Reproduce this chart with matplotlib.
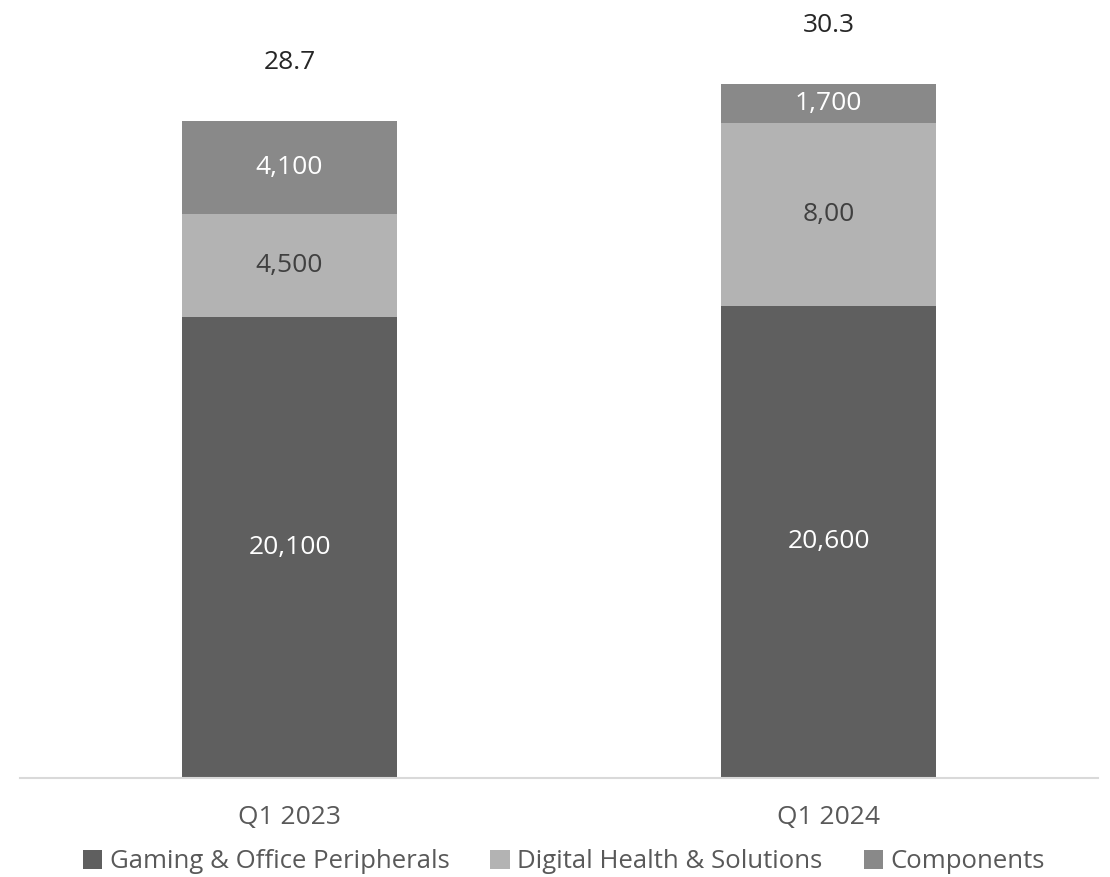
import matplotlib.pyplot as plt
import numpy as np

plt.rcParams['font.family'] = ['Open Sans', 'DejaVu Sans']

quarters = ['Q1 2023', 'Q1 2024']
series = ['Gaming & Office Peripherals', 'Digital Health & Solutions', 'Components']
gaming = [20100, 20600]
digital = [4500, 8000]
components = [4100, 1700]
seg_labels = [['20,100', '20,600'], ['4,500', '8,00'], ['4,100', '1,700']]
totals = ['28.7', '30.3']

colors = ['#5f5f5f', '#b3b3b3', '#898989']
label_colors = ['white', '#404040', 'white']

fig = plt.figure(figsize=(11.1, 8.77), dpi=100)
ax = fig.add_axes([20 / 1110, (877 - 777.5) / 877, (1098 - 20) / 1110, 777.5 / 877])

x = np.arange(len(quarters))
bottom = np.zeros(len(quarters))
for vals, col, lc, labs, name in zip([gaming, digital, components], colors, label_colors, seg_labels, series):
    bars = ax.bar(x, vals, width=0.4, bottom=bottom, color=col, label=name)
    ax.bar_label(bars, labels=labs, label_type='center', color=lc, fontsize=19)
    bottom += np.array(vals)

# totals (in thousands) above each stack
for xi, top, t in zip(x, bottom, totals):
    ax.annotate(t, (xi, top), xytext=(0, 42), textcoords='offset points',
                ha='center', va='center', fontsize=19, color='#262626')

ax.set_xlim(-0.5, 1.5)
ax.set_ylim(0, 33967)
ax.set_xticks(x)
ax.set_xticklabels(quarters, fontsize=19, color='#595959')
ax.tick_params(axis='x', length=0, pad=20)
ax.set_yticks([])
for s in ['top', 'left', 'right']:
    ax.spines[s].set_visible(False)
ax.spines['bottom'].set_color('#d9d9d9')
ax.spines['bottom'].set_linewidth(1.5)

fig.legend(loc='center', bbox_to_anchor=(0.508, 1 - 862 / 877), ncol=3, frameon=False,
           fontsize=18.5, labelcolor='#595959', handlelength=0.75, handleheight=0.75,
           handletextpad=0.3, columnspacing=1.6)

fig.savefig('out.png')
